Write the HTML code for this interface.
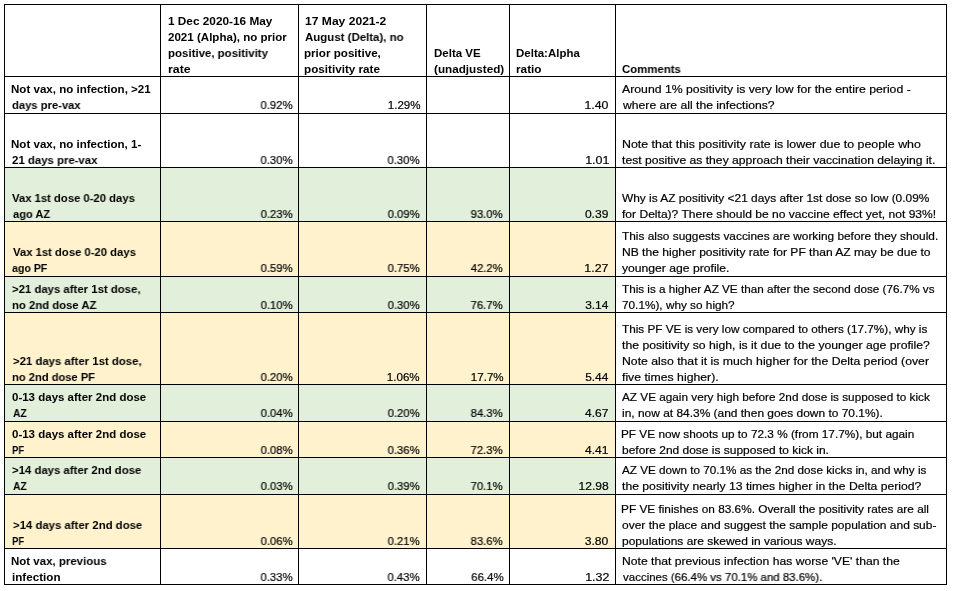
<!DOCTYPE html>
<html><head><meta charset="utf-8"><style>
html,body{margin:0;padding:0;background:#fff;width:954px;height:591px;overflow:hidden;position:relative}
.f,.l,.t{position:absolute}
.l{background:#000}
.t{font-family:"Liberation Sans",sans-serif;font-size:11.5px;line-height:16px;height:16px;white-space:pre;will-change:transform;color:#000;transform-origin:left center}
.t.b{font-weight:bold}
.t.r{-webkit-text-stroke:0.2px #000}
.t.ra{transform-origin:right center}
</style></head><body>
<div class="f" style="left:4px;top:167px;width:611px;height:54px;background:#E2EFDA"></div>
<div class="f" style="left:4px;top:221px;width:611px;height:55px;background:#FFF2CC"></div>
<div class="f" style="left:4px;top:276px;width:611px;height:36px;background:#E2EFDA"></div>
<div class="f" style="left:4px;top:312px;width:611px;height:72px;background:#FFF2CC"></div>
<div class="f" style="left:4px;top:384px;width:611px;height:37px;background:#E2EFDA"></div>
<div class="f" style="left:4px;top:421px;width:611px;height:36px;background:#FFF2CC"></div>
<div class="f" style="left:4px;top:457px;width:611px;height:37px;background:#E2EFDA"></div>
<div class="f" style="left:4px;top:494px;width:611px;height:54px;background:#FFF2CC"></div>
<div class="l" style="left:4px;top:4px;width:1px;height:581px"></div>
<div class="l" style="left:160px;top:4px;width:1px;height:581px"></div>
<div class="l" style="left:298px;top:4px;width:1px;height:581px"></div>
<div class="l" style="left:426px;top:4px;width:1px;height:581px"></div>
<div class="l" style="left:509px;top:4px;width:1px;height:581px"></div>
<div class="l" style="left:615px;top:4px;width:1px;height:581px"></div>
<div class="l" style="left:946px;top:4px;width:1px;height:581px"></div>
<div class="l" style="left:4px;top:4px;width:943px;height:1px"></div>
<div class="l" style="left:4px;top:76px;width:943px;height:1px"></div>
<div class="l" style="left:4px;top:113px;width:943px;height:1px"></div>
<div class="l" style="left:4px;top:167px;width:943px;height:1px"></div>
<div class="l" style="left:4px;top:221px;width:943px;height:1px"></div>
<div class="l" style="left:4px;top:276px;width:943px;height:1px"></div>
<div class="l" style="left:4px;top:312px;width:943px;height:1px"></div>
<div class="l" style="left:4px;top:384px;width:943px;height:1px"></div>
<div class="l" style="left:4px;top:421px;width:943px;height:1px"></div>
<div class="l" style="left:4px;top:457px;width:943px;height:1px"></div>
<div class="l" style="left:4px;top:494px;width:943px;height:1px"></div>
<div class="l" style="left:4px;top:548px;width:943px;height:1px"></div>
<div class="l" style="left:4px;top:584px;width:943px;height:1px"></div>
<div id="t0" class="t b" style="left:168.00px;top:13px;transform:scaleX(1.0265)">1 Dec 2020-16 May</div>
<div id="t1" class="t b" style="left:168.39px;top:29px;transform:scaleX(1.0055)">2021 (Alpha), no prior</div>
<div id="t2" class="t b" style="left:167.53px;top:45px;transform:scaleX(0.9958)">positive, positivity</div>
<div id="t3" class="t b" style="left:167.98px;top:61px;transform:scaleX(1.0784)">rate</div>
<div id="t4" class="t b" style="left:304.81px;top:13px;transform:scaleX(1.0514)">17 May 2021-2</div>
<div id="t5" class="t b" style="left:304.84px;top:29px;transform:scaleX(0.9953)">August (Delta), no</div>
<div id="t6" class="t b" style="left:304.49px;top:45px;transform:scaleX(1.0103)">prior positive,</div>
<div id="t7" class="t b" style="left:304.47px;top:61px;transform:scaleX(1.0162)">positivity rate</div>
<div id="t8" class="t b" style="left:433.67px;top:45px;transform:scaleX(1.0017)">Delta VE</div>
<div id="t9" class="t b" style="left:434.27px;top:61px;transform:scaleX(1.0176)">(unadjusted)</div>
<div id="t10" class="t b" style="left:516.10px;top:45px;transform:scaleX(0.9983)">Delta:Alpha</div>
<div id="t11" class="t b" style="left:515.86px;top:61px;transform:scaleX(1.0244)">ratio</div>
<div id="t12" class="t b" style="left:621.55px;top:61px;transform:scaleX(0.9898)">Comments</div>
<div id="t13" class="t b" style="left:11.46px;top:81px;transform:scaleX(1.0051)">Not vax, no infection, &gt;21</div>
<div id="t14" class="t b" style="left:12.15px;top:97px;transform:scaleX(0.9743)">days pre-vax</div>
<div id="t15" class="t r ra" style="right:661.59px;top:97px;transform:scaleX(0.9858)">0.92%</div>
<div id="t16" class="t r ra" style="right:533.74px;top:97px;transform:scaleX(1.0071)">1.29%</div>
<div id="t17" class="t r ra" style="right:345.21px;top:97px;transform:scaleX(1.0722)">1.40</div>
<div id="t18" class="t r" style="left:622.14px;top:81px;transform:scaleX(1.0654)">Around 1% positivity is very low for the entire period -</div>
<div id="t19" class="t r" style="left:622.65px;top:97px;transform:scaleX(1.0584)">where are all the infections?</div>
<div id="t20" class="t b" style="left:11.46px;top:136px;transform:scaleX(1.0047)">Not vax, no infection, 1-</div>
<div id="t21" class="t b" style="left:12.19px;top:152px;transform:scaleX(0.9901)">21 days pre-vax</div>
<div id="t22" class="t r ra" style="right:661.59px;top:152px;transform:scaleX(0.9858)">0.30%</div>
<div id="t23" class="t r ra" style="right:534.39px;top:152px;transform:scaleX(0.9858)">0.30%</div>
<div id="t24" class="t r ra" style="right:345.06px;top:152px;transform:scaleX(1.0837)">1.01</div>
<div id="t25" class="t r" style="left:621.64px;top:136px;transform:scaleX(1.0774)">Note that this positivity rate is lower due to people who</div>
<div id="t26" class="t r" style="left:622.28px;top:152px;transform:scaleX(1.0565)">test positive as they approach their vaccination delaying it.</div>
<div id="t27" class="t b" style="left:12.09px;top:190px;transform:scaleX(0.9806)">Vax 1st dose 0-20 days</div>
<div id="t28" class="t b" style="left:12.61px;top:206px;transform:scaleX(0.9618)">ago AZ</div>
<div id="t29" class="t r ra" style="right:661.45px;top:206px;transform:scaleX(0.9789)">0.23%</div>
<div id="t30" class="t r ra" style="right:534.25px;top:206px;transform:scaleX(0.9789)">0.09%</div>
<div id="t31" class="t r ra" style="right:451.52px;top:206px;transform:scaleX(0.9808)">93.0%</div>
<div id="t32" class="t r ra" style="right:345.44px;top:206px;transform:scaleX(1.0491)">0.39</div>
<div id="t33" class="t r" style="left:622.25px;top:190px;transform:scaleX(1.0328)">Why is AZ positivity &lt;21 days after 1st dose so low (0.09%</div>
<div id="t34" class="t r" style="left:622.14px;top:206px;transform:scaleX(1.0493)">for Delta)? There should be no vaccine effect yet, not 93%!</div>
<div id="t35" class="t b" style="left:12.89px;top:244px;transform:scaleX(0.9807)">Vax 1st dose 0-20 days</div>
<div id="t36" class="t b" style="left:12.39px;top:260px;transform:scaleX(0.9197)">ago PF</div>
<div id="t37" class="t r ra" style="right:661.40px;top:260px;transform:scaleX(0.9808)">0.59%</div>
<div id="t38" class="t r ra" style="right:534.20px;top:260px;transform:scaleX(0.9808)">0.75%</div>
<div id="t39" class="t r ra" style="right:451.22px;top:260px;transform:scaleX(0.9771)">42.2%</div>
<div id="t40" class="t r ra" style="right:345.30px;top:260px;transform:scaleX(1.0747)">1.27</div>
<div id="t41" class="t r" style="left:622.23px;top:228px;transform:scaleX(1.0306)">This also suggests vaccines are working before they should.</div>
<div id="t42" class="t r" style="left:622.07px;top:244px;transform:scaleX(1.0493)">NB the higher positivity rate for PF than AZ may be due to</div>
<div id="t43" class="t r" style="left:621.91px;top:260px;transform:scaleX(1.0568)">younger age profile.</div>
<div id="t44" class="t b" style="left:11.99px;top:281px;transform:scaleX(0.9878)">&gt;21 days after 1st dose,</div>
<div id="t45" class="t b" style="left:12.32px;top:297px;transform:scaleX(0.9835)">no 2nd dose AZ</div>
<div id="t46" class="t r ra" style="right:661.45px;top:297px;transform:scaleX(0.9789)">0.10%</div>
<div id="t47" class="t r ra" style="right:534.25px;top:297px;transform:scaleX(0.9789)">0.30%</div>
<div id="t48" class="t r ra" style="right:451.55px;top:297px;transform:scaleX(0.9829)">76.7%</div>
<div id="t49" class="t r ra" style="right:345.15px;top:297px;transform:scaleX(1.0389)">3.14</div>
<div id="t50" class="t r" style="left:622.23px;top:281px;transform:scaleX(1.0164)">This is a higher AZ VE than after the second dose (76.7% vs</div>
<div id="t51" class="t r" style="left:621.64px;top:297px;transform:scaleX(1.0246)">70.1%), why so high?</div>
<div id="t52" class="t b" style="left:12.71px;top:353px;transform:scaleX(0.9882)">&gt;21 days after 1st dose,</div>
<div id="t53" class="t b" style="left:12.06px;top:369px;transform:scaleX(0.9693)">no 2nd dose PF</div>
<div id="t54" class="t r ra" style="right:661.40px;top:369px;transform:scaleX(0.9808)">0.20%</div>
<div id="t55" class="t r ra" style="right:534.37px;top:369px;transform:scaleX(1.0058)">1.06%</div>
<div id="t56" class="t r ra" style="right:450.57px;top:369px;transform:scaleX(1.0058)">17.7%</div>
<div id="t57" class="t r ra" style="right:345.50px;top:369px;transform:scaleX(1.0364)">5.44</div>
<div id="t58" class="t r" style="left:622.23px;top:321px;transform:scaleX(1.0209)">This PF VE is very low compared to others (17.7%), why is</div>
<div id="t59" class="t r" style="left:622.27px;top:337px;transform:scaleX(1.0631)">the positivity so high, is it due to the younger age profile?</div>
<div id="t60" class="t r" style="left:621.75px;top:353px;transform:scaleX(1.0648)">Note also that it is much higher for the Delta period (over</div>
<div id="t61" class="t r" style="left:622.14px;top:369px;transform:scaleX(1.0649)">five times higher).</div>
<div id="t62" class="t b" style="left:12.06px;top:389px;transform:scaleX(0.9991)">0-13 days after 2nd dose</div>
<div id="t63" class="t b" style="left:12.54px;top:405px;transform:scaleX(0.8997)">AZ</div>
<div id="t64" class="t r ra" style="right:661.45px;top:405px;transform:scaleX(0.9789)">0.04%</div>
<div id="t65" class="t r ra" style="right:534.25px;top:405px;transform:scaleX(0.9789)">0.20%</div>
<div id="t66" class="t r ra" style="right:451.50px;top:405px;transform:scaleX(0.9797)">84.3%</div>
<div id="t67" class="t r ra" style="right:345.36px;top:405px;transform:scaleX(1.0409)">4.67</div>
<div id="t68" class="t r" style="left:622.18px;top:389px;transform:scaleX(1.0222)">AZ VE again very high before 2nd dose is supposed to kick</div>
<div id="t69" class="t r" style="left:622.03px;top:405px;transform:scaleX(1.0381)">in, now at 84.3% (and then goes down to 70.1%).</div>
<div id="t70" class="t b" style="left:11.80px;top:426px;transform:scaleX(0.9993)">0-13 days after 2nd dose</div>
<div id="t71" class="t b" style="left:12.00px;top:442px;transform:scaleX(0.8287)">PF</div>
<div id="t72" class="t r ra" style="right:661.40px;top:442px;transform:scaleX(0.9808)">0.08%</div>
<div id="t73" class="t r ra" style="right:534.20px;top:442px;transform:scaleX(0.9808)">0.36%</div>
<div id="t74" class="t r ra" style="right:451.48px;top:442px;transform:scaleX(0.9850)">72.3%</div>
<div id="t75" class="t r ra" style="right:345.16px;top:442px;transform:scaleX(1.0466)">4.41</div>
<div id="t76" class="t r" style="left:621.27px;top:426px;transform:scaleX(1.0264)">PF VE now shoots up to 72.3 % (from 17.7%), but again</div>
<div id="t77" class="t r" style="left:621.98px;top:442px;transform:scaleX(1.0406)">before 2nd dose is supposed to kick in.</div>
<div id="t78" class="t b" style="left:11.99px;top:462px;transform:scaleX(0.9888)">&gt;14 days after 2nd dose</div>
<div id="t79" class="t b" style="left:12.54px;top:478px;transform:scaleX(0.8997)">AZ</div>
<div id="t80" class="t r ra" style="right:661.45px;top:478px;transform:scaleX(0.9789)">0.03%</div>
<div id="t81" class="t r ra" style="right:534.25px;top:478px;transform:scaleX(0.9789)">0.39%</div>
<div id="t82" class="t r ra" style="right:451.55px;top:478px;transform:scaleX(0.9829)">70.1%</div>
<div id="t83" class="t r ra" style="right:345.61px;top:478px;transform:scaleX(1.0510)">12.98</div>
<div id="t84" class="t r" style="left:622.17px;top:462px;transform:scaleX(1.0174)">AZ VE down to 70.1% as the 2nd dose kicks in, and why is</div>
<div id="t85" class="t r" style="left:622.27px;top:478px;transform:scaleX(1.0596)">the positivity nearly 13 times higher in the Delta period?</div>
<div id="t86" class="t b" style="left:12.71px;top:517px;transform:scaleX(0.9884)">&gt;14 days after 2nd dose</div>
<div id="t87" class="t b" style="left:12.00px;top:533px;transform:scaleX(0.8287)">PF</div>
<div id="t88" class="t r ra" style="right:661.40px;top:533px;transform:scaleX(0.9808)">0.06%</div>
<div id="t89" class="t r ra" style="right:534.20px;top:533px;transform:scaleX(0.9808)">0.21%</div>
<div id="t90" class="t r ra" style="right:451.43px;top:533px;transform:scaleX(0.9819)">83.6%</div>
<div id="t91" class="t r ra" style="right:345.18px;top:533px;transform:scaleX(1.0565)">3.80</div>
<div id="t92" class="t r" style="left:621.27px;top:501px;transform:scaleX(1.0273)">PF VE finishes on 83.6%. Overall the positivity rates are all</div>
<div id="t93" class="t r" style="left:622.03px;top:517px;transform:scaleX(1.0420)">over the place and suggest the sample population and sub-</div>
<div id="t94" class="t r" style="left:621.97px;top:533px;transform:scaleX(1.0421)">populations are skewed in various ways.</div>
<div id="t95" class="t b" style="left:11.49px;top:553px;transform:scaleX(0.9966)">Not vax, previous</div>
<div id="t96" class="t b" style="left:12.21px;top:569px;transform:scaleX(1.0123)">infection</div>
<div id="t97" class="t r ra" style="right:661.59px;top:569px;transform:scaleX(0.9858)">0.33%</div>
<div id="t98" class="t r ra" style="right:534.39px;top:569px;transform:scaleX(0.9858)">0.43%</div>
<div id="t99" class="t r ra" style="right:450.90px;top:569px;transform:scaleX(0.9927)">66.4%</div>
<div id="t100" class="t r ra" style="right:344.64px;top:569px;transform:scaleX(1.0808)">1.32</div>
<div id="t101" class="t r" style="left:621.88px;top:553px;transform:scaleX(1.0573)">Note that previous infection has worse &#x27;VE&#x27; than the</div>
<div id="t102" class="t r" style="left:622.75px;top:569px;transform:scaleX(0.9962)">vaccines (66.4% vs 70.1% and 83.6%).</div>
</body></html>
